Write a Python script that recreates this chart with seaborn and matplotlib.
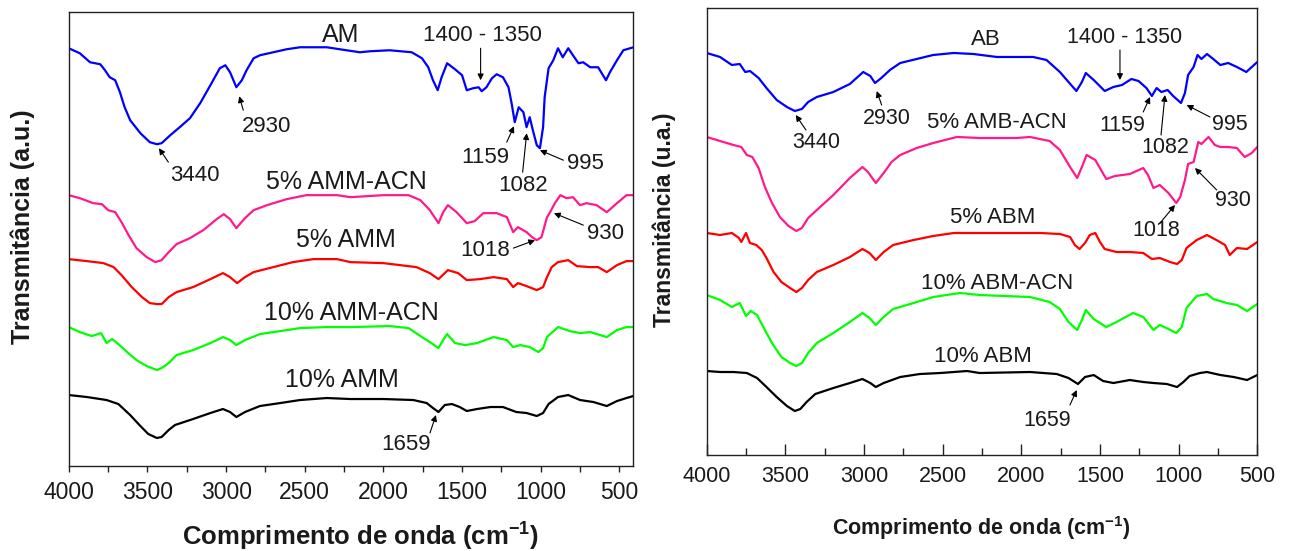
import matplotlib
matplotlib.use("Agg")
import matplotlib.pyplot as plt
import seaborn as sns
import pandas as pd
from matplotlib.ticker import MultipleLocator

# ---------------- data (wavenumber, transmittance a.u. with offsets) ----------------
# Left panel
AM_WN = [4000, 3930, 3865, 3800, 3770, 3740, 3705, 3675, 3645, 3610, 3545, 3485, 3440, 3410, 3355,
         3295, 3230, 3165, 3100, 3040, 3005, 2975, 2935, 2900, 2870, 2825, 2785, 2700, 2615, 2530,
         2360, 2235, 2150,
         2085, 1960, 1820, 1755, 1715, 1685, 1655, 1630, 1595, 1545, 1500, 1470, 1430, 1395, 1375,
         1345, 1310, 1280, 1240, 1205, 1185, 1165, 1140, 1110, 1090, 1070, 1050, 1025, 1005, 985,
         975, 950, 920, 890, 860, 825, 795, 760, 730, 685, 635, 585, 560, 515, 475, 411]
AM_T = [418, 413, 404, 402, 396, 389, 386, 374, 359, 346, 333, 324, 322, 323, 331,
        339, 348, 363, 381, 398, 401, 394, 379, 386, 396, 408, 411, 414, 417, 419,
        419, 416, 414,
        415, 416, 414, 408, 399, 386, 376, 389, 403, 397, 391, 376, 378, 379, 375,
        379, 388, 392, 389, 379, 363, 344, 359, 354, 339, 349, 336, 321, 318, 339,
        369, 398, 406, 418, 409, 418, 411, 403, 404, 399, 399, 386, 394, 406, 416, 419]

AMM_ACN5_WN = [4000, 3930, 3845, 3790, 3750, 3705, 3665, 3620, 3570, 3505, 3450, 3410, 3365, 3315,
               3230, 3145, 3060, 3015, 2975, 2935, 2880, 2825, 2740, 2615, 2490, 2295,
               2210, 2000, 1840, 1765, 1705, 1650, 1620, 1590, 1535, 1470, 1420, 1365, 1280, 1215,
               1175, 1145, 1090, 1055, 1025, 995, 960, 940, 910, 875, 835, 795, 750, 710, 645,
               580, 515, 455, 411]
AMM_ACN5_T = [271, 268, 263, 262, 256, 254, 244, 231, 218, 209, 204, 206, 214, 222,
              228, 236, 247, 252, 247, 238, 248, 256, 261, 267, 271, 271,
              269, 271, 271, 266, 256, 243, 254, 261, 254, 243, 245, 253, 253, 249,
              234, 239, 234, 229, 226, 229, 249, 254, 263, 271, 268, 269, 261, 263, 261,
              254, 263, 271, 271]

AMM5_WN = [4000, 3885, 3780, 3715, 3665, 3600, 3535, 3485, 3440, 3410, 3365, 3315, 3210, 3100,
           3020, 2975, 2930, 2880, 2825, 2700, 2575, 2445, 2295,
           2210, 2000, 1790, 1705, 1650, 1590, 1525, 1470, 1385, 1300, 1215, 1175, 1145, 1090,
           1025, 985, 960, 930, 890, 825, 770, 685, 635, 580, 515, 455, 411]
AMM5_T = [207, 205, 203, 199, 191, 179, 169, 163, 162, 162, 169, 174, 179, 187,
          193, 189, 183, 189, 194, 199, 204, 207, 207,
          204, 203, 199, 193, 187, 196, 193, 186, 187, 189, 187, 179, 183, 180,
          176, 179, 189, 199, 204, 206, 200, 199, 199, 194, 201, 205, 205]

AMM_ACN10_WN = [4000, 3930, 3855, 3795, 3760, 3725, 3685, 3630, 3570, 3505, 3440, 3410, 3365, 3315,
                3210, 3100, 3020, 2975, 2935, 2880, 2785, 2655, 2530, 2360,
                2210, 1960, 1840, 1755, 1695, 1650, 1620, 1595, 1545, 1480, 1405, 1300, 1215, 1175,
                1130, 1070, 1015, 985, 960, 890, 815, 750, 685, 580, 515, 455, 411]
AMM_ACN10_T = [139, 134, 130, 133, 123, 127, 122, 114, 106, 100, 96, 98, 103, 111,
               116, 123, 129, 126, 121, 126, 132, 135, 138, 139,
               139, 140, 138, 129, 123, 118, 126, 132, 123, 121, 123, 129, 126, 119,
               121, 119, 114, 118, 129, 139, 135, 133, 134, 129, 136, 139, 139]

AMM10_WN = [4000, 3885, 3760, 3685, 3610, 3545, 3495, 3440, 3410, 3365, 3325, 3210, 3100, 3020,
            2975, 2935, 2880, 2785, 2655, 2530, 2360,
            2210, 2000, 1810, 1725, 1685, 1650, 1610, 1565, 1515, 1470, 1405, 1320, 1240, 1155,
            1090, 1025, 985, 950, 890, 825, 750, 665, 580, 515, 455, 411]
AMM10_T = [71, 69, 66, 62, 51, 40, 32, 28, 29, 36, 41, 47, 53, 57,
           54, 49, 54, 60, 63, 66, 68,
           67, 67, 66, 63, 58, 54, 61, 62, 59, 55, 57, 59, 59, 54,
           53, 50, 53, 62, 69, 71, 66, 64, 60, 65, 68, 70]

# Right panel
AB_WN = [4000, 3915, 3840, 3790, 3755, 3725, 3670, 3620, 3555, 3490, 3440, 3395, 3355, 3300,
         3195, 3090, 3005, 2960, 2930, 2890, 2835, 2770, 2665, 2560, 2430, 2305,
         2155, 2050, 1925, 1840, 1755, 1700, 1650, 1615, 1590, 1540, 1470, 1415, 1360, 1300,
         1255, 1205, 1170, 1140, 1110, 1070, 1035, 985, 960, 940, 905, 880, 855, 820, 780,
         735, 685, 630, 570, 535, 500]
AB_T = [402, 398, 390, 391, 383, 384, 377, 367, 355, 348, 344, 346, 353, 358,
        363, 371, 383, 379, 372, 377, 385, 392, 396, 400, 402, 401,
        398, 398, 398, 395, 383, 373, 364, 373, 382, 375, 364, 368, 370, 376,
        374, 367, 359, 367, 363, 365, 359, 352, 362, 380, 388, 400, 396, 401, 396,
        390, 392, 388, 383, 388, 393]

AMB_ACN5_WN = [4000, 3915, 3830, 3780, 3745, 3710, 3670, 3630, 3585, 3535, 3480, 3430, 3395, 3355,
               3300, 3195, 3090, 3010, 2975, 2925, 2875, 2825, 2770, 2665, 2560, 2410,
               2265, 2115, 2030, 1945, 1820, 1755, 1690, 1645, 1615, 1585, 1530, 1460, 1405, 1310,
               1225, 1195, 1160, 1120, 1065, 1015, 990, 960, 940, 905, 875, 855, 810, 770, 735,
               685, 630, 580, 535, 500]
AMB_ACN5_T = [318, 314, 310, 308, 300, 298, 287, 268, 252, 238, 229, 224, 227, 237,
              245, 260, 277, 288, 283, 272, 282, 293, 300, 307, 312, 318,
              317, 317, 317, 318, 314, 305, 288, 277, 288, 300, 295, 276, 279, 281,
              287, 280, 267, 270, 262, 252, 258, 275, 291, 293, 313, 311, 318, 310, 308,
              308, 307, 298, 302, 308]

ABM5_WN = [4000, 3915, 3840, 3795, 3780, 3750, 3725, 3685, 3650, 3620, 3575, 3525, 3470, 3430,
           3395, 3355, 3300, 3195, 3090, 3010, 2965, 2925, 2875, 2815, 2685, 2560, 2430,
           2265, 1880, 1755, 1690, 1660, 1630, 1595, 1565, 1530, 1500, 1470, 1395, 1310, 1225,
           1170, 1120, 1055, 1010, 980, 950, 885, 820, 760, 705, 675, 630, 565, 500]
ABM5_T = [222, 220, 222, 217, 213, 222, 212, 210, 205, 197, 183, 173, 167, 163,
          167, 175, 183, 190, 198, 206, 202, 195, 203, 210, 215, 219, 222,
          222, 222, 221, 218, 210, 206, 212, 220, 222, 213, 206, 203, 203, 202,
          196, 197, 193, 191, 195, 207, 215, 220, 215, 210, 200, 207, 206, 213]

ABM_ACN10_WN = [4000, 3915, 3840, 3790, 3750, 3720, 3680, 3640, 3585, 3525, 3470, 3430, 3395, 3355,
                3300, 3195, 3090, 3010, 2965, 2925, 2875, 2815, 2685, 2560, 2390,
                2265, 1945, 1820, 1755, 1700, 1645, 1615, 1590, 1540, 1460, 1395, 1290, 1225, 1160,
                1120, 1065, 1015, 980, 950, 885, 820, 780, 695, 630, 565, 500]
ABM_ACN10_T = [160, 155, 148, 152, 139, 144, 140, 128, 112, 98, 92, 89, 92, 102,
               112, 122, 133, 142, 137, 130, 138, 146, 152, 158, 162,
               160, 158, 153, 146, 133, 125, 135, 145, 136, 128, 133, 142, 138, 125,
               130, 126, 122, 128, 147, 159, 161, 156, 152, 150, 144, 151]

ABM10_WN = [4000, 3915, 3830, 3745, 3680, 3620, 3555, 3490, 3440, 3405, 3365, 3310, 3195, 3090,
            3010, 2960, 2925, 2875, 2770, 2645, 2515, 2345,
            2265, 1945, 1775, 1700, 1640, 1595, 1540, 1480, 1415, 1310, 1225, 1160, 1075, 1010,
            970, 930, 865, 820, 735, 650, 565, 500]
ABM10_T = [84, 83, 83, 82, 77, 68, 58, 49, 44, 46, 53, 61, 67, 72,
           76, 72, 68, 72, 78, 81, 82, 84,
           82, 83, 81, 77, 71, 78, 80, 74, 72, 75, 73, 72, 71, 68,
           73, 79, 82, 83, 80, 78, 75, 80]

LEFT_SERIES = [("AM", AM_WN, AM_T, "#0000FF"),
               ("5% AMM-ACN", AMM_ACN5_WN, AMM_ACN5_T, "#FF1A8C"),
               ("5% AMM", AMM5_WN, AMM5_T, "#FF0000"),
               ("10% AMM-ACN", AMM_ACN10_WN, AMM_ACN10_T, "#00FF00"),
               ("10% AMM", AMM10_WN, AMM10_T, "#000000")]
RIGHT_SERIES = [("AB", AB_WN, AB_T, "#0000FF"),
                ("5% AMB-ACN", AMB_ACN5_WN, AMB_ACN5_T, "#FF1A8C"),
                ("5% ABM", ABM5_WN, ABM5_T, "#FF0000"),
                ("10% ABM-ACN", ABM_ACN10_WN, ABM_ACN10_T, "#00FF00"),
                ("10% ABM", ABM10_WN, ABM10_T, "#000000")]

# labels of curves: (text, wn, t)
LEFT_NAMES = [("AM", 2270, 431), ("5% AMM-ACN", 2238, 284), ("5% AMM", 2238, 226),
              ("10% AMM-ACN", 2203, 153), ("10% AMM", 2263, 86)]
RIGHT_NAMES = [("AB", 2224, 415), ("5% AMB-ACN", 2157, 332), ("5% ABM", 2180, 238),
               ("10% ABM-ACN", 2155, 172), ("10% ABM", 2247, 99)]

# band annotations: (text, text_wn, text_t, tail_wn, tail_t, tip_wn, tip_t)
LEFT_BANDS = [("1400 - 1350", 1370, 431, 1382, 418, 1382, 386),
              ("3440", 3198, 291, 3367, 304, 3427, 318),
              ("2930", 2740, 340, 2891, 356, 2916, 370),
              ("1159", 1350, 309, 1216, 324, 1170, 340),
              ("1082", 1111, 281, 1115, 294, 1089, 333),
              ("995", 714, 303, 856, 306, 1005, 316),
              ("930", 591, 233, 729, 241, 916, 253),
              ("1018", 1354, 216, 1174, 218, 1036, 226),
              ("1659", 1858, 21, 1704, 33, 1666, 51)]
RIGHT_BANDS = [("1400 - 1350", 1341, 417, 1373, 405, 1373, 375),
               ("3440", 3305, 312, 3369, 325, 3434, 340),
               ("2930", 2854, 336, 2888, 350, 2919, 364),
               ("1159", 1357, 329, 1225, 343, 1182, 358),
               ("1082", 1087, 307, 1112, 320, 1087, 360),
               ("995", 673, 330, 801, 338, 949, 350),
               ("930", 658, 255, 758, 265, 896, 287),
               ("1018", 1144, 225, 1118, 232, 1023, 250),
               ("1659", 1834, 35, 1691, 50, 1648, 65)]

# ---------------- style ----------------
sns.set_theme(style="white")
plt.rcParams["font.family"] = ["Liberation Sans", "DejaVu Sans"]
plt.rcParams["axes.edgecolor"] = "#222222"
plt.rcParams["axes.linewidth"] = 1.0

fig = plt.figure(figsize=(12.91, 5.51), dpi=100)
ax1 = fig.add_axes([0.0533, 0.1543, 0.4373, 0.8234])
ax2 = fig.add_axes([0.5474, 0.1742, 0.4265, 0.8113])


def draw(ax, series, names, bands, name_fs, band_fs):
    for name, wn, t, col in series:
        df = pd.DataFrame({"wn": wn, "t": t})
        sns.lineplot(data=df, x="wn", y="t", ax=ax, color=col, lw=1.6,
                     sort=False, estimator=None, legend=False)
    for s, x, y in names:
        ax.text(x, y, s, ha="center", va="center", fontsize=name_fs, color="#1a1a1a")
    for s, tx, ty, ax0, ay0, ax1_, ay1 in bands:
        ax.text(tx, ty, s, ha="center", va="center", fontsize=band_fs, color="#1a1a1a")
        ax.annotate("", xy=(ax1_, ay1), xytext=(ax0, ay0),
                    arrowprops=dict(arrowstyle="-|>", color="black", lw=0.8,
                                    mutation_scale=9, shrinkA=0, shrinkB=0))
    ax.set_xlabel("")
    ax.set_ylabel("")
    ax.set_yticks([])
    ax.xaxis.set_major_locator(MultipleLocator(500))
    ax.xaxis.set_minor_locator(MultipleLocator(250))
    for sp in ax.spines.values():
        sp.set_visible(True)
        sp.set_color("#222222")
        sp.set_linewidth(1.0)


draw(ax1, LEFT_SERIES, LEFT_NAMES, LEFT_BANDS, 18, 16)
draw(ax2, RIGHT_SERIES, RIGHT_NAMES, RIGHT_BANDS, 16, 15.5)

ax1.set_xlim(4000, 411)
ax1.set_ylim(0, 454)
ax2.set_xlim(4000, 500)
ax2.set_ylim(0, 447)

ax1.tick_params(axis="x", which="both", direction="out", length=4, width=1,
                colors="#222222", labelsize=16.5, pad=7, bottom=True)
ax2.tick_params(axis="x", which="major", direction="in", length=8, width=1,
                colors="#222222", labelsize=15.5, pad=8, bottom=True)
ax2.tick_params(axis="x", which="minor", direction="in", length=5, width=1,
                colors="#222222", bottom=True)
for ax in (ax1, ax2):
    for lab in ax.get_xticklabels():
        lab.set_color("#1a1a1a")

fig.text(0.2796, 0.028, r"Comprimento de onda (cm$^{\mathregular{-1}}$)",
         ha="center", va="center", fontsize=18.5, fontweight="bold", color="#1a1a1a")
fig.text(0.7603, 0.042, r"Comprimento de onda (cm$^{\mathregular{-1}}$)",
         ha="center", va="center", fontsize=15.5, fontweight="bold", color="#1a1a1a")
fig.text(0.0178, 0.589, "Transmitância (a.u.)", rotation=90,
         ha="center", va="center", fontsize=18, fontweight="bold", color="#1a1a1a")
fig.text(0.5143, 0.6007, "Transmitância (u.a.)", rotation=90,
         ha="center", va="center", fontsize=16.5, fontweight="bold", color="#1a1a1a")

fig.savefig("out.png", dpi=100, facecolor="white")
